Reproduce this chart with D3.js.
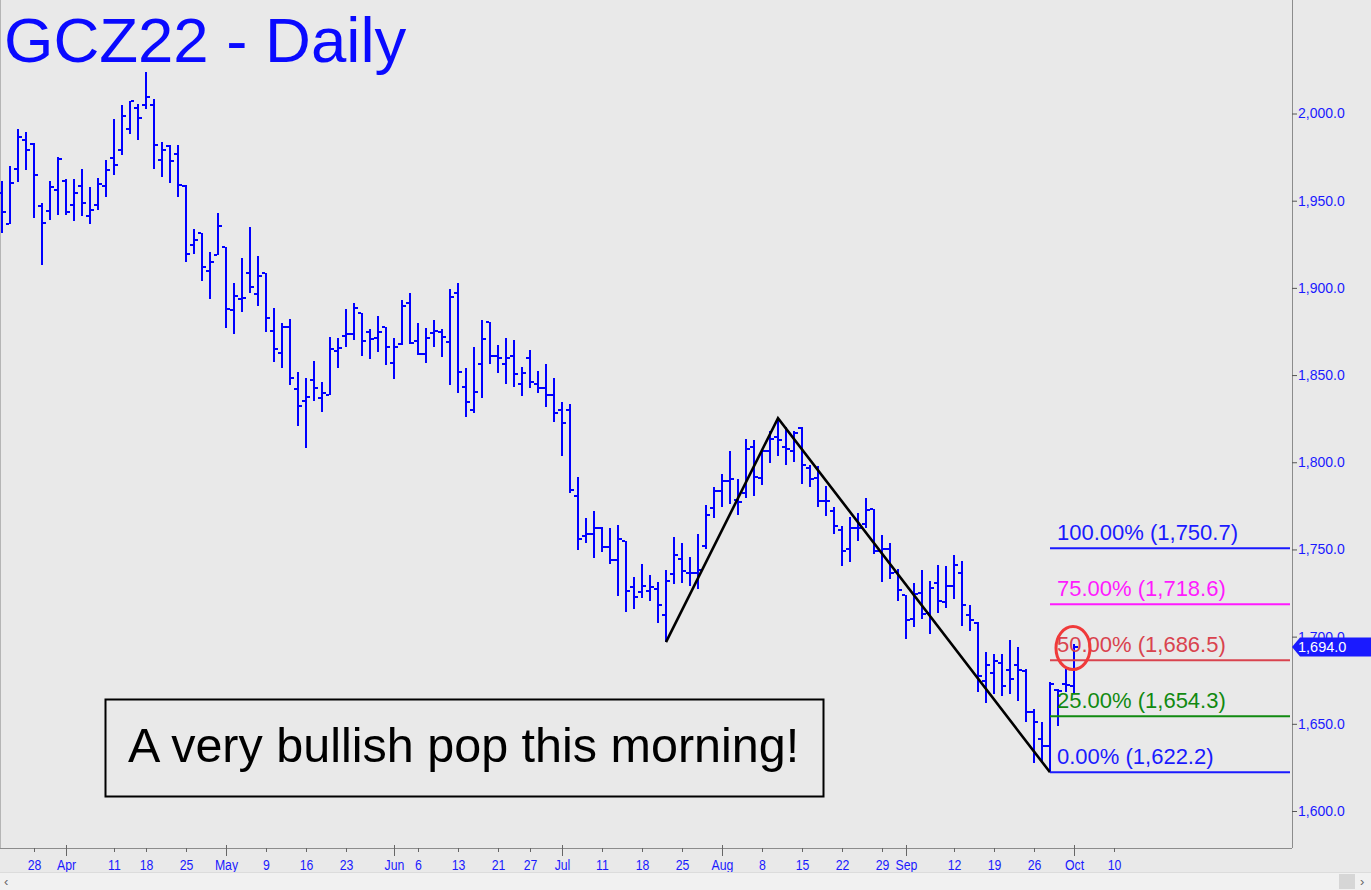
<!DOCTYPE html>
<html><head><meta charset="utf-8">
<script src="https://cdn.jsdelivr.net/npm/d3@7"></script>
<style>html,body{margin:0;padding:0;background:#e9e9e9;overflow:hidden}</style>
</head><body>
<svg id="c" width="1371" height="890"></svg>
<script>
// ---- DATA (GCZ22 daily OHLC) ----
const startDate = "2022-03-22";
const holidays = ["2022-04-15","2022-05-30","2022-06-20","2022-07-04","2022-09-05"];
const opens = [1954.6,1936.9,1968.0,1984.9,1982.3,1947.0,1944.1,1956.3,1961.3,1947.8,1958.2,1941.1,1947.4,1958.2,1974.6,1978.8,1991.2,2003.1,2004.6,2004.6,
1973.5,1981.3,1976.5,1958.2,1924.5,1931.2,1909.8,1918.7,1923.5,1887.3,1893.6,1908.3,1896.4,1908.3,1875.5,1862.8,1877.7,1842.1,1835.2,1847.2,
1837.1,1838.6,1863.6,1872.6,1873.5,1885.4,1874.9,1871.5,1877.4,1856.8,1867.8,1891.1,1869.5,1861.9,1873.9,1874.9,1869.1,1897.2,1843.2,1830.1,
1856.3,1880.2,1861.1,1856.3,1860.9,1844.9,1859.6,1844.9,1842.5,1838.6,1829.8,1829.8,1780.8,1757.6,1759.0,1762.4,1751.5,1744.2,1754.7,1728.6,
1725.5,1726.1,1727.2,1712.2,1736.2,1744.8,1736.6,1736.6,1751.9,1773.8,1783.3,1789.4,1778.5,1782.4,1808.7,1791.0,1806.2,1814.4,1808.7,1806.2,
1819.6,1796.7,1791.0,1777.8,1771.9,1761.4,1750.4,1762.4,1764.8,1773.2,1749.0,1750.4,1736.8,1723.6,1709.9,1724.8,1713.3,1730.5,1719.8,1729.0,
1736.6,1712.2,1707.6,1674.6,1679.0,1685.1,1681.0,1683.6,1680.3,1656.5,1641.3,1637.4,1669.5,1672.7,1671.6];
const highs = [1961.1,1969.7,1991.2,1989.3,1983.0,1948.7,1961.3,1975.0,1962.6,1962.6,1968.0,1957.9,1963.2,1973.5,1997.0,2004.6,2007.4,2005.6,2023.6,2008.4,
1983.6,1981.7,1982.1,1958.8,1934.0,1931.2,1920.6,1943.2,1923.5,1902.6,1916.9,1934.9,1918.3,1908.3,1888.2,1880.0,1882.0,1851.6,1848.2,1858.1,
1846.3,1871.7,1871.1,1887.7,1891.5,1885.7,1876.2,1884.0,1877.7,1871.1,1893.0,1896.8,1880.0,1876.8,1881.6,1876.2,1899.1,1902.6,1853.9,1866.3,
1881.6,1880.2,1867.2,1871.1,1870.1,1854.5,1864.4,1852.4,1856.4,1848.2,1834.4,1833.5,1791.5,1768.1,1771.9,1762.9,1762.4,1764.3,1754.7,1734.3,
1741.4,1735.1,1731.2,1738.2,1757.2,1753.8,1745.6,1759.1,1775.7,1785.8,1793.4,1806.2,1790.4,1813.3,1812.5,1807.2,1818.2,1825.3,1820.5,1817.7,
1820.0,1798.6,1797.6,1786.6,1774.4,1763.3,1768.7,1771.0,1779.5,1773.2,1758.5,1753.8,1738.9,1723.6,1730.9,1738.2,1731.8,1740.8,1740.4,1746.7,
1743.6,1717.9,1708.3,1690.9,1689.9,1690.3,1698.0,1694.3,1681.3,1658.4,1650.8,1673.7,1669.8,1681.7,1695.6];
const lows = [1931.2,1936.9,1960.7,1967.8,1940.3,1913.0,1938.8,1942.0,1941.6,1938.4,1941.2,1936.9,1944.5,1952.1,1964.5,1976.0,1988.4,1984.6,2002.7,1968.4,
1963.6,1960.3,1952.1,1914.9,1919.7,1904.0,1893.9,1918.7,1876.8,1873.5,1885.9,1896.8,1889.6,1874.9,1857.7,1854.3,1844.4,1820.9,1808.1,1834.9,
1828.7,1838.6,1853.9,1865.9,1870.1,1861.1,1859.0,1863.4,1855.8,1847.8,1867.2,1867.8,1861.5,1856.8,1865.9,1860.2,1844.4,1840.0,1826.2,1828.5,
1836.8,1856.4,1851.0,1844.9,1843.4,1838.1,1842.5,1839.6,1831.6,1822.8,1803.5,1782.4,1749.4,1753.8,1745.2,1748.4,1741.4,1723.3,1714.1,1715.6,
1722.4,1720.4,1708.0,1696.8,1729.9,1730.9,1729.0,1727.1,1750.4,1768.1,1774.2,1776.3,1769.9,1779.5,1780.5,1787.1,1799.6,1803.4,1798.6,1800.0,
1787.7,1785.8,1774.4,1769.0,1759.1,1740.4,1742.9,1754.7,1762.4,1747.6,1731.2,1733.2,1720.4,1698.8,1705.7,1710.3,1701.3,1713.3,1716.6,1721.4,
1706.1,1703.2,1668.3,1661.8,1667.0,1666.0,1666.9,1663.2,1650.8,1627.3,1627.5,1622.2,1648.9,1668.0,1667.0];
const closes = [1943.5,1960.1,1986.7,1979.2,1964.5,1937.2,1957.9,1973.7,1943.5,1954.6,1948.7,1944.5,1959.4,1967.8,1970.6,1998.5,2007.4,1997.5,2009.7,1982.1,
1978.8,1972.5,1959.2,1919.7,1927.3,1912.1,1914.9,1935.5,1887.8,1895.3,1894.3,1900.6,1906.9,1882.5,1865.0,1877.7,1848.6,1832.0,1837.7,1842.5,
1840.0,1865.0,1865.4,1873.5,1888.2,1869.5,1870.5,1874.7,1865.9,1866.3,1889.6,1868.2,1861.9,1871.1,1875.3,1872.0,1894.5,1851.6,1834.4,1840.2,
1870.7,1861.1,1859.6,1859.6,1850.6,1851.0,1846.3,1842.5,1838.6,1828.5,1822.6,1784.3,1755.7,1759.1,1762.4,1751.5,1744.2,1755.7,1726.1,1722.9,
1729.0,1728.6,1717.9,1731.8,1746.7,1737.6,1736.6,1738.2,1769.9,1783.3,1789.0,1790.4,1777.0,1807.6,1791.5,1806.2,1813.3,1812.5,1807.6,1816.7,
1798.6,1790.4,1777.8,1777.8,1763.3,1749.0,1762.4,1762.4,1772.8,1749.0,1750.4,1736.6,1726.7,1709.5,1724.2,1712.8,1728.0,1720.4,1729.0,1740.8,
1717.9,1709.5,1677.4,1683.6,1685.9,1671.4,1675.5,1680.9,1656.5,1651.1,1637.4,1672.7,1668.9,1672.1,1694.0];
const yTicks = [1600,1650,1700,1750,1800,1850,1900,1950,2000];
const xTickDates = ["2022-03-28","2022-04-01","2022-04-11","2022-04-18","2022-04-25","2022-05-02","2022-05-09","2022-05-16","2022-05-23","2022-06-01","2022-06-06","2022-06-13","2022-06-21","2022-06-27","2022-07-01","2022-07-11","2022-07-18","2022-07-25","2022-08-01","2022-08-08","2022-08-15","2022-08-22","2022-08-29","2022-09-01","2022-09-12","2022-09-19","2022-09-26","2022-10-03","2022-10-10"];
const xTickLabels = ["28","Apr","11","18","25","May","9","16","23","Jun","6","13","21","27","Jul","11","18","25","Aug","8","15","22","29","Sep","12","19","26","Oct","10"];
const swingDates = ["2022-07-21","2022-08-10","2022-09-28"];
const swingPrices = [1696.8,1825.3,1622.2];
const fibPct = [100,75,50,25,0];
const fibPrices = [1750.7,1718.6,1686.5,1654.3,1622.2];
const fibColors = ["#1a1aff","#ff1aff","#d9434e","#118a11","#1a1aff"];
const lastPrice = 1694.0;
const title = "GCZ22 - Daily";
const note = "A very bullish pop this morning!";

// ---- trading calendar ----
const days = [];
{
  let d = new Date(startDate + "T00:00:00Z");
  while (days.length < 175) {
    const iso = d.toISOString().slice(0,10);
    const wd = d.getUTCDay();
    if (wd !== 0 && wd !== 6 && !holidays.includes(iso)) days.push(iso);
    d = new Date(d.getTime() + 86400000);
  }
}
const idx = iso => days.indexOf(iso);

const svg = d3.select("#c");
const W = 1371, H = 890, axisX = 1292, axisY = 848;
const x = d3.scaleLinear().domain([0, 1]).range([2, 10]);
const y = d3.scaleLinear().domain([1600, 2000]).range([811, 113.5]);
const blue = "#1a1aff";
const font = "'Liberation Sans', Arial, sans-serif";

svg.append("rect").attr("width", W).attr("height", H).attr("fill", "#e9e9e9");
svg.append("line").attr("x1",0.5).attr("x2",0.5).attr("y1",0).attr("y2",axisY).attr("stroke","#b5b5b5");

// bars
const bars = svg.append("g").attr("fill", "#0000ff").attr("shape-rendering","crispEdges");
opens.forEach((o, i) => {
  const cx = Math.round(x(i));
  const yh = Math.round(y(highs[i])), yl = Math.round(y(lows[i]));
  bars.append("rect").attr("x", cx-1).attr("y", yh).attr("width", 2).attr("height", Math.max(1, yl-yh));
  bars.append("rect").attr("x", cx-4).attr("y", Math.round(y(o))-1).attr("width", 3).attr("height", 2);
  bars.append("rect").attr("x", cx+1).attr("y", Math.round(y(closes[i]))-1).attr("width", 3).attr("height", 2);
});

// ABC swing line
const line = d3.line().x(d => x(idx(d[0]))).y(d => y(d[1]));
svg.append("path").datum(swingDates.map((d,i)=>[d, swingPrices[i]]))
  .attr("d", line).attr("fill","none").attr("stroke","#000").attr("stroke-width",2.6);

// fib levels
const fx0 = x(idx(swingDates[2]));
fibPct.forEach((p,i) => {
  const yy = y(fibPrices[i]);
  svg.append("line").attr("x1", fx0).attr("x2", axisX-2).attr("y1", yy).attr("y2", yy)
    .attr("stroke", fibColors[i]).attr("stroke-width", 2);
  svg.append("text").attr("x", fx0+7).attr("y", yy-8).attr("fill", fibColors[i])
    .attr("font-family", font).attr("font-size", 22)
    .text(`${p.toFixed(2)}% (${d3.format(",.1f")(fibPrices[i])})`);
});

// red circle on last bar
svg.append("ellipse").attr("cx", x(opens.length-1)-1).attr("cy", y(lastPrice)+1)
  .attr("rx", 17).attr("ry", 21.5).attr("fill","none").attr("stroke","#f03a3a").attr("stroke-width",3);

// note box
svg.append("rect").attr("x",105.5).attr("y",699.5).attr("width",718).attr("height",97)
  .attr("fill","none").attr("stroke","#000").attr("stroke-width",2);
svg.append("text").attr("x",128).attr("y",762).attr("font-family",font).attr("font-size",48.5)
  .attr("fill","#000").text(note);

// title
svg.append("text").attr("x",4).attr("y",62).attr("font-family",font).attr("font-size",63.5)
  .attr("fill","#0a0aff").text(title);

// right axis
svg.append("line").attr("x1",axisX+0.5).attr("x2",axisX+0.5).attr("y1",0).attr("y2",axisY)
  .attr("stroke","#8c8c8c");
const ra = svg.append("g").attr("transform",`translate(${axisX},0)`)
  .call(d3.axisRight(y).tickValues(yTicks).tickFormat(d3.format(",.1f")).tickSize(5).tickPadding(1));
ra.select(".domain").remove();
ra.selectAll("line").attr("stroke","#555");
ra.selectAll("text").attr("fill",blue).attr("font-family",font).attr("font-size",14);

// last price tag
const ly = y(lastPrice);
svg.append("path").attr("d",`M${axisX},${ly} L${axisX+8},${ly-9.5} L${W},${ly-9.5} L${W},${ly+9.5} L${axisX+8},${ly+9.5} Z`)
  .attr("fill","#1a1aff");
svg.append("text").attr("x",axisX+6).attr("y",ly+5).attr("fill","#fff").attr("font-family",font)
  .attr("font-size",14.5).text(d3.format(",.1f")(lastPrice));

// bottom axis
svg.append("line").attr("x1",0).attr("x2",axisX).attr("y1",axisY+0.5).attr("y2",axisY+0.5).attr("stroke","#8c8c8c");
const monthLabels = ["Apr","May","Jun","Jul","Aug","Sep","Oct"];
const bx = svg.append("g");
xTickDates.forEach((d,i) => {
  const xx = Math.round(x(idx(d))) + 0.5;
  const isMonth = monthLabels.includes(xTickLabels[i]);
  bx.append("line").attr("x1",xx).attr("x2",xx).attr("y1", isMonth ? axisY-3 : axisY)
    .attr("y2", isMonth ? axisY+8 : axisY+4).attr("stroke","#666");
  bx.append("text").attr("x",xx).attr("y",axisY+22).attr("text-anchor","middle")
    .attr("fill",blue).attr("font-family",font).attr("font-size",15)
    .attr("transform",`translate(${xx},0) scale(0.82,1) translate(${-xx},0)`)
    .text(xTickLabels[i]);
});

// scrollbar
svg.append("rect").attr("x",0).attr("y",872).attr("width",W).attr("height",18).attr("fill","#f1f1f1");
svg.append("line").attr("x1",0).attr("x2",W).attr("y1",872.5).attr("y2",872.5).attr("stroke","#dcdcdc");
svg.append("rect").attr("x",1339).attr("y",874).attr("width",16).attr("height",15).attr("fill","#d6d6d6");
svg.append("text").attr("x",4).attr("y",886).attr("font-family",font).attr("font-size",13).attr("fill","#666").text("‹");
svg.append("text").attr("x",1360).attr("y",886).attr("font-family",font).attr("font-size",13).attr("fill","#666").text("›");
</script>
</body></html>
